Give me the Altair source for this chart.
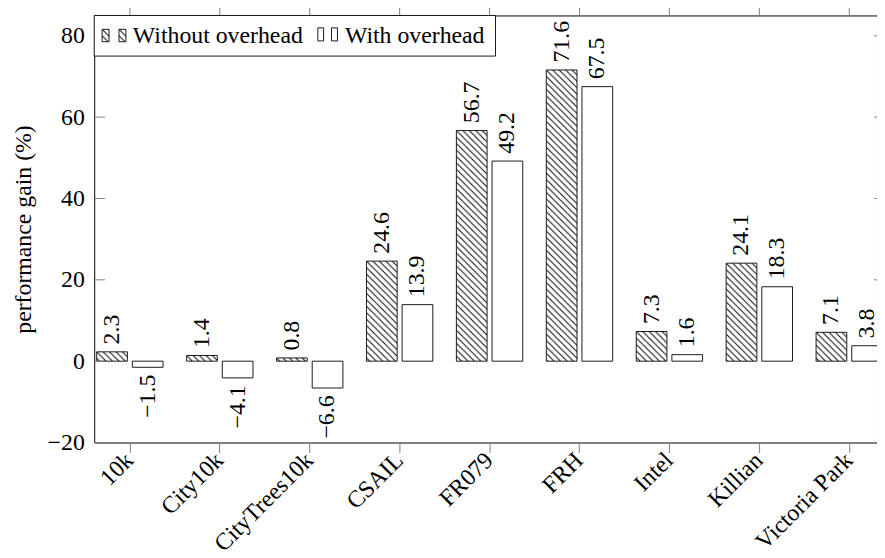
import altair as alt
import pandas as pd
from urllib.parse import quote

# ---------------- data ----------------
categories = ["10k", "City10k", "CityTrees10k", "CSAIL", "FR079", "FRH",
              "Intel", "Killian", "Victoria Park"]
without_overhead = [2.3, 1.4, 0.8, 24.6, 56.7, 71.6, 7.3, 24.1, 7.1]
with_overhead = [-1.5, -4.1, -6.6, 13.9, 49.2, 67.5, 1.6, 18.3, 3.8]
series_names = ["Without overhead", "With overhead"]
y_ticks = [-20, 0, 20, 40, 60, 80]

rows = []
for c, a, b in zip(categories, without_overhead, with_overhead):
    rows.append({"cat": c, "series": series_names[0], "value": a})
    rows.append({"cat": c, "series": series_names[1], "value": b})
df = pd.DataFrame(rows)
tick_df = pd.DataFrame({"value": y_ticks})
cat_df = pd.DataFrame({"cat": categories})
legend_df = pd.DataFrame({"label": series_names})

# ---------------- style ----------------
FONT = "Liberation Serif"
FS = 24
W, H = 790, 431          # visible plot area (the frame continues past the page edge)
FULL_W = 798             # full frame width (right edge is cut by the page)
STEP = 90.75
FIRST = 36
x_range = [FIRST - STEP / 2, FIRST - STEP / 2 + STEP * len(categories)]
TICK_COLOR = "#808080"

hatch_svg = (
    "<svg xmlns='http://www.w3.org/2000/svg' width='100%' height='100%'>"
    "<defs><pattern id='p' width='6.5' height='6.5' patternUnits='userSpaceOnUse'>"
    "<path d='M0,0L6.5,6.5M-1,5.5L1,7.5M5.5,-1L7.5,1' stroke='black' stroke-width='0.95'/>"
    "</pattern></defs><rect width='100%' height='100%' fill='url(#p)'/></svg>"
)
HATCH = "data:image/svg+xml;charset=utf-8," + quote(hatch_svg)

x_enc = alt.X(
    "cat:N", sort=categories, title=None,
    scale=alt.Scale(range=x_range, paddingInner=0, paddingOuter=0),
    axis=alt.Axis(labelAngle=315, labelAlign="right", labelBaseline="middle",
                  tickSize=10, tickColor=TICK_COLOR, tickWidth=1, bandPosition=0.5,
                  labelPadding=4, labelOverlap=False, labelLimit=0, domain=False),
)
xo_enc = alt.XOffset("series:N", sort=series_names,
                     scale=alt.Scale(paddingInner=0.139, paddingOuter=0.33))
y_enc = alt.Y(
    "value:Q", title="performance gain (%)",
    scale=alt.Scale(domain=[-20, 85], nice=False, zero=False),
    axis=alt.Axis(values=y_ticks, ticks=False, labelPadding=10, titlePadding=12,
                  domain=False, grid=False),
)

base = alt.Chart(df)

hatch = base.transform_filter(alt.datum.series == series_names[0]).mark_image(
    aspect=False
).encode(x=x_enc, xOffset=xo_enc, y=y_enc, y2=alt.datum(0), url=alt.value(HATCH))

bars = base.mark_bar(fillOpacity=0, stroke="black", strokeWidth=0.9).encode(
    x=x_enc, xOffset=xo_enc, y=y_enc, y2=alt.datum(0)
)

lab_pos = base.transform_filter(alt.datum.value >= 0).mark_text(
    angle=270, align="left", baseline="middle", dx=7.5, font=FONT, fontSize=FS,
    color="black"
).encode(x=x_enc, xOffset=xo_enc, y=y_enc, text=alt.Text("value:Q", format=".1f"))

lab_neg = base.transform_filter(alt.datum.value < 0).mark_text(
    angle=270, align="right", baseline="middle", dx=-7.5, font=FONT, fontSize=FS,
    color="black"
).encode(x=x_enc, xOffset=xo_enc, y=y_enc, text=alt.Text("value:Q", format=".1f"))

left_ticks = alt.Chart(tick_df).mark_rule(color=TICK_COLOR, strokeWidth=1).encode(
    y=y_enc, x=alt.value(0), x2=alt.value(11)
)
right_ticks = alt.Chart(tick_df).mark_rule(color=TICK_COLOR, strokeWidth=1).encode(
    y=y_enc, x=alt.value(FULL_W - 11), x2=alt.value(FULL_W)
)
top_ticks = alt.Chart(cat_df).mark_rule(color=TICK_COLOR, strokeWidth=1).encode(
    x=x_enc, y=alt.value(-10), y2=alt.value(0)
)

# ---------------- legend ----------------
leg_one = alt.Chart(legend_df.head(1))
legend_box = leg_one.mark_rect(fill="white", stroke="black", strokeWidth=0.9).encode(
    x=alt.value(0), x2=alt.value(405), y=alt.value(0), y2=alt.value(41)
)
sw_h1 = leg_one.mark_image(aspect=False).encode(
    x=alt.value(8), x2=alt.value(15), y=alt.value(14), y2=alt.value(26.5),
    url=alt.value(HATCH))
sw_h2 = leg_one.mark_image(aspect=False).encode(
    x=alt.value(25), x2=alt.value(32), y=alt.value(14), y2=alt.value(26.5),
    url=alt.value(HATCH))
sw_h1b = leg_one.mark_rect(fillOpacity=0, stroke="black", strokeWidth=0.9).encode(
    x=alt.value(8), x2=alt.value(15), y=alt.value(14), y2=alt.value(26.5))
sw_h2b = leg_one.mark_rect(fillOpacity=0, stroke="black", strokeWidth=0.9).encode(
    x=alt.value(25), x2=alt.value(32), y=alt.value(14), y2=alt.value(26.5))
sw_p1 = leg_one.mark_rect(fill="white", stroke="black", strokeWidth=0.9).encode(
    x=alt.value(225.7), x2=alt.value(231.5), y=alt.value(12.5), y2=alt.value(25.7))
sw_p2 = leg_one.mark_rect(fill="white", stroke="black", strokeWidth=0.9).encode(
    x=alt.value(239.5), x2=alt.value(245.5), y=alt.value(12.5), y2=alt.value(25.7))
leg_t1 = alt.Chart(legend_df).transform_filter(
    alt.datum.label == series_names[0]
).mark_text(align="left", baseline="alphabetic", font=FONT, fontSize=FS,
            color="black").encode(text="label:N", x=alt.value(39), y=alt.value(27.5))
leg_t2 = alt.Chart(legend_df).transform_filter(
    alt.datum.label == series_names[1]
).mark_text(align="left", baseline="alphabetic", font=FONT, fontSize=FS,
            color="black").encode(text="label:N", x=alt.value(253), y=alt.value(27.5))

chart = alt.layer(
    hatch, bars, lab_pos, lab_neg, left_ticks, right_ticks, top_ticks,
    legend_box, sw_h1, sw_h2, sw_h1b, sw_h2b, sw_p1, sw_p2, leg_t1, leg_t2
).properties(
    width=W, height=H,
    padding={"left": 87, "top": 5, "right": 0, "bottom": 114},
    autosize=alt.AutoSizeParams(type="none"),
).configure_view(
    stroke="black", strokeWidth=1
).configure_axis(
    labelFont=FONT, titleFont=FONT, labelFontSize=FS, titleFontSize=FS,
    labelColor="black", titleColor="black", titleFontWeight="normal", grid=False
)

chart.save("out.html", embed_options={"renderer": "svg", "actions": False})
